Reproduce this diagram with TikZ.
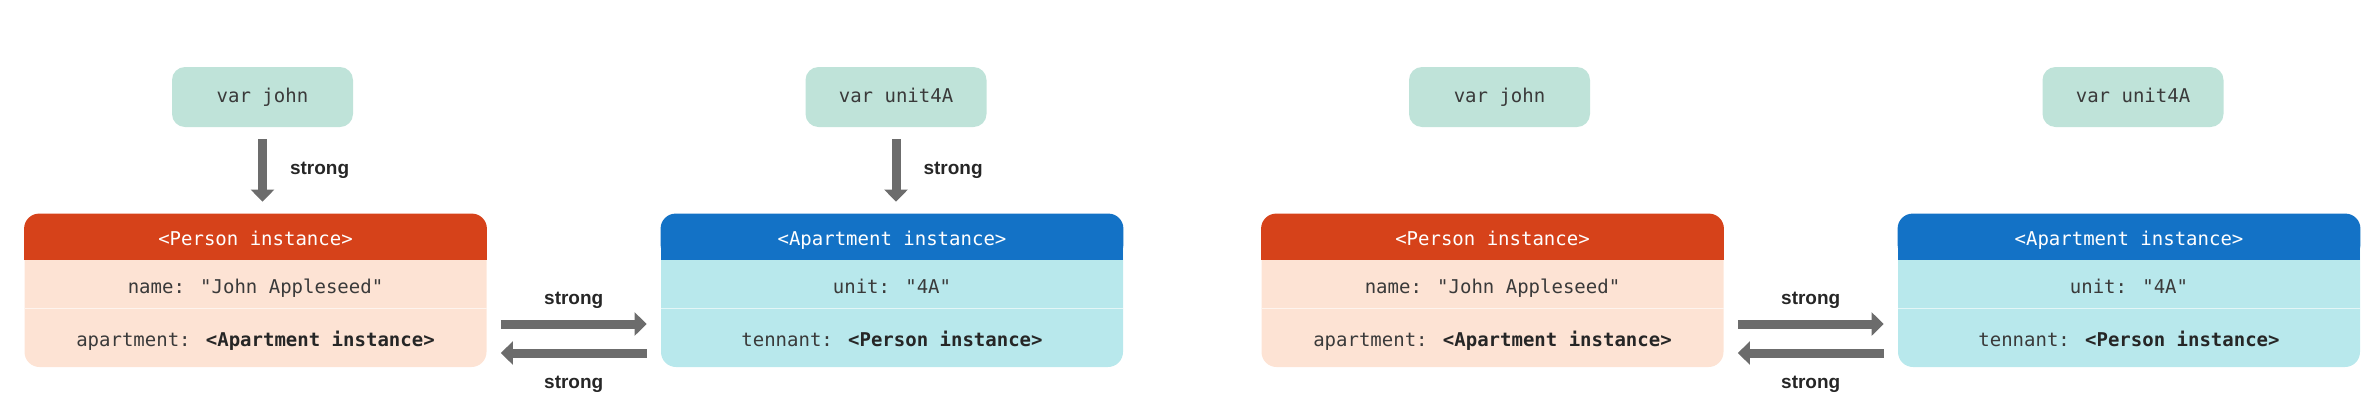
\documentclass[tikz,border=0pt]{standalone}
\usepackage{fontspec}
\setmainfont{Liberation Sans}
\newfontfamily\codefont{DejaVu Sans Mono}
\usepackage{tikz}
\usetikzlibrary{arrows.meta,positioning}
\definecolor{varfill}{RGB}{191,227,217}
\definecolor{personhead}{RGB}{214,66,26}
\definecolor{personbody}{RGB}{253,227,212}
\definecolor{apthead}{RGB}{19,114,198}
\definecolor{aptbody}{RGB}{184,232,236}
\definecolor{arrowgray}{RGB}{108,108,108}
\definecolor{codegray}{RGB}{58,58,58}
\newcommand{\instw}{231pt}
\newcommand{\insth}{76.5pt}
\newcommand{\headh}{23pt}

\begin{document}
\begin{tikzpicture}[x=0.5pt,y=-0.5pt]
            \tikzset{
                code/.style={font=\codefont\fontsize{9.5}{11}\selectfont, text=codegray, inner sep=0pt, text height=0.75em, text depth=0.25em},
                varbox/.style={code, fill=varfill, rounded corners=6.5pt, minimum width=90.5pt, minimum height=30pt},
                instbox/.style={rounded corners=7.5pt, minimum width=\instw, minimum height=\insth, inner sep=0pt},
                divider/.style={line width=0.5pt},
                refarrow/.style={draw=arrowgray, line width=4.5pt, shorten <=7pt, shorten >=7pt, -{Triangle[width=11.5pt,length=6pt]}},
                refname/.style={font=\bfseries\fontsize{9.5}{11}\selectfont, text=black!85, inner sep=0pt}
            }
            \useasboundingbox (0,0) rectangle (2374,414);
            \foreach \p/\dx in {a/0,b/1237}{
                \node[varbox] (john\p) at (262.5+\dx,97) {var john};
                \node[varbox] (unit4A\p) at (896+\dx,97) {var unit4A};
                \node[instbox, fill=personbody] (person\p) at (255.5+\dx,290.5) {};
                \fill[personhead, rounded corners=7.5pt] (person\p.north west) rectangle ([yshift=-\headh]person\p.north east);
                \fill[personhead] ([yshift=-11.5pt]person\p.north west) rectangle ([yshift=-\headh]person\p.north east);
                \draw[divider, draw=personbody!40!white] ([yshift=-47.5pt]person\p.north west) -- ([yshift=-47.5pt]person\p.north east);
                \node[code, text=white] (personhead\p) at ([yshift=-13.5pt]person\p.north) {<Person instance>};
                \node[code] (personname\p) at ([yshift=-37.5pt]person\p.north) {name: "John Appleseed"};
                \node[code] (personapt\p) at ([yshift=-64pt]person\p.north) {apartment: \textbf{\color{black!85}<Apartment instance>}};
                \node[instbox, fill=aptbody] (apt\p) at (892+\dx,290.5) {};
                \fill[apthead, rounded corners=7.5pt] (apt\p.north west) rectangle ([yshift=-\headh]apt\p.north east);
                \fill[apthead] ([yshift=-11.5pt]apt\p.north west) rectangle ([yshift=-\headh]apt\p.north east);
                \draw[divider, draw=aptbody!40!white] ([yshift=-47.5pt]apt\p.north west) -- ([yshift=-47.5pt]apt\p.north east);
                \node[code, text=white] (apthead\p) at ([yshift=-13.5pt]apt\p.north) {<Apartment instance>};
                \node[code] (aptunit\p) at ([yshift=-37.5pt]apt\p.north) {unit: "4A"};
                \node[code] (apttenant\p) at ([yshift=-64pt]apt\p.north) {tennant: \textbf{\color{black!85}<Person instance>}};
                \draw[refarrow] ([yshift=-16.75pt]person\p.east) -- ([yshift=-16.75pt]apt\p.west)
                    node[refname, midway, yshift=12pt] {strong};
                \draw[refarrow] ([yshift=-31.25pt]apt\p.west) -- ([yshift=-31.25pt]person\p.east)
                    node[refname, midway, yshift=-15.5pt] {strong};
            }
            \draw[refarrow, shorten <=6pt, shorten >=6pt] (johna.south) -- (johna.south |- persona.north)
                node[refname, midway, right=11.5pt] {strong};
            \draw[refarrow, shorten <=6pt, shorten >=6pt] (unit4Aa.south) -- (unit4Aa.south |- apta.north)
                node[refname, midway, right=11.5pt] {strong};
        \end{tikzpicture}
\end{document}
